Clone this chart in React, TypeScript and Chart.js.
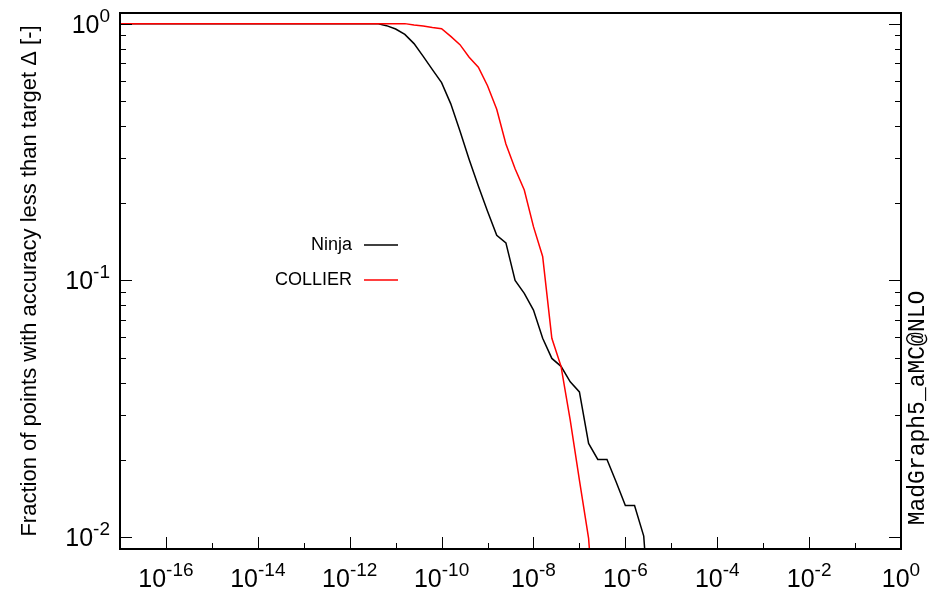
import React, { useEffect, useRef } from 'react';
import { Chart, registerables } from 'chart.js';

Chart.register(...registerables);

// ---- data (x given as log10 of target accuracy) ----
const ninjaLog10Delta = [-17, -11.4, -11.2, -11.0, -10.8, -10.6, -10.4, -10.2, -10.0, -9.8, -9.6, -9.4, -9.2, -9.0, -8.8, -8.6, -8.4, -8.2, -8.0, -7.8, -7.6, -7.4, -7.2, -7.0, -6.8, -6.6, -6.4, -6.2, -6.0, -5.8, -5.6, -5.4];
const ninjaFraction = [1.0, 1.0, 0.982, 0.953, 0.908, 0.836, 0.746, 0.662, 0.589, 0.487, 0.382, 0.296, 0.233, 0.186, 0.150, 0.140, 0.100, 0.089, 0.0767, 0.0595, 0.0497, 0.0463, 0.0403, 0.0368, 0.0232, 0.0201, 0.0201, 0.0164, 0.0133, 0.0133, 0.0101, 0.0033];

const collierLog10Delta = [-17, -10.8, -10.6, -10.4, -10.2, -10.0, -9.8, -9.6, -9.4, -9.2, -9.0, -8.8, -8.6, -8.4, -8.2, -8.0, -7.8, -7.6, -7.4, -7.2, -7.0, -6.8, -6.6];
const collierFraction = [1.0, 1.0, 0.988, 0.978, 0.966, 0.956, 0.892, 0.828, 0.740, 0.677, 0.573, 0.464, 0.340, 0.272, 0.225, 0.162, 0.124, 0.0595, 0.0463, 0.0286, 0.0167, 0.0099, 0.0033];

const seriesNames = ['Ninja', 'COLLIER'];
const seriesColors = ['#000000', '#ff0000'];

const xLabelExponents = [-16, -14, -12, -10, -8, -6, -4, -2, 0];
const xMinorExponents = [-15, -13, -11, -9, -7, -5, -3, -1];
const yLabelExponents = [-2, -1, 0];
const yMinorDecades = [-3, -2, -1];
const yMinorMultipliers = [2, 3, 4, 5, 6, 7, 8, 9];

const yTitle = 'Fraction of points with accuracy less than target Δ [-]';
const watermark = 'MadGraph5_aMC@NLO';

const SANS = '"Liberation Sans", Arial, Helvetica, sans-serif';
const MONO = '"Liberation Mono", "DejaVu Sans Mono", monospace';
const BASE_PX = 25;
const SUP_PX = 19;
const SUP_RISE = 11;

function drawPower(ctx: CanvasRenderingContext2D, exp: number, x: number, baseY: number, align: 'center' | 'right') {
  const base = '10';
  const sup = String(exp);
  ctx.font = `${BASE_PX}px ${SANS}`;
  const wb = ctx.measureText(base).width;
  ctx.font = `${SUP_PX}px ${SANS}`;
  const ws = ctx.measureText(sup).width;
  const total = wb + ws;
  const start = align === 'center' ? x - total / 2 : x - total;
  ctx.textAlign = 'left';
  ctx.textBaseline = 'alphabetic';
  ctx.font = `${BASE_PX}px ${SANS}`;
  ctx.fillText(base, start, baseY);
  ctx.font = `${SUP_PX}px ${SANS}`;
  ctx.fillText(sup, start + wb, baseY - SUP_RISE);
}

const gnuplotFrame = {
  id: 'gnuplotFrame',
  afterDatasetsDraw(chart: any) {
    const { ctx, chartArea: a, scales } = chart;
    const xs = scales.x;
    const ys = scales.y;
    ctx.save();
    ctx.fillStyle = '#000';
    ctx.strokeStyle = '#000';
    ctx.lineWidth = 1;

    const vTick = (px: number, len: number) => {
      const x = Math.round(px) + 0.5;
      ctx.beginPath();
      ctx.moveTo(x, a.bottom);
      ctx.lineTo(x, a.bottom - len);
      ctx.stroke();
    };
    const hTicks = (py: number, len: number) => {
      const y = Math.round(py) + 0.5;
      ctx.beginPath();
      ctx.moveTo(a.left, y);
      ctx.lineTo(a.left + len, y);
      ctx.moveTo(a.right, y);
      ctx.lineTo(a.right - len, y);
      ctx.stroke();
    };

    // x ticks (bottom only)
    for (const e of xLabelExponents) vTick(xs.getPixelForValue(Math.pow(10, e)), 12);
    for (const e of xMinorExponents) vTick(xs.getPixelForValue(Math.pow(10, e)), 6);
    // y ticks (left + mirrored right)
    for (const e of yLabelExponents) hTicks(ys.getPixelForValue(Math.pow(10, e)), 12);
    for (const d of yMinorDecades) {
      for (const m of yMinorMultipliers) {
        const v = m * Math.pow(10, d);
        if (v > ys.min * 1.001 && v < ys.max) hTicks(ys.getPixelForValue(v), 6);
      }
    }

    // frame
    ctx.lineWidth = 2;
    ctx.strokeRect(a.left, a.top, a.right - a.left, a.bottom - a.top);

    // tick labels
    for (const e of xLabelExponents) {
      drawPower(ctx, e, xs.getPixelForValue(Math.pow(10, e)), a.bottom + 38, 'center');
    }
    for (const e of yLabelExponents) {
      drawPower(ctx, e, a.left - 10, ys.getPixelForValue(Math.pow(10, e)) + 9, 'right');
    }

    // y title
    ctx.save();
    ctx.translate(30, (a.top + a.bottom) / 2);
    ctx.rotate(-Math.PI / 2);
    ctx.font = `22px ${SANS}`;
    ctx.textAlign = 'center';
    ctx.textBaseline = 'middle';
    ctx.fillText(yTitle, 0, 0);
    ctx.restore();

    // watermark on the right
    ctx.save();
    ctx.translate(a.right + 17, a.bottom - 141);
    ctx.rotate(-Math.PI / 2);
    ctx.font = `23px ${MONO}`;
    ctx.textAlign = 'center';
    ctx.textBaseline = 'middle';
    ctx.fillText(watermark, 0, 0);
    ctx.restore();

    // key
    const keyTextRight = a.left + 232;
    const rows = [a.top + 232, a.top + 267];
    chart.data.datasets.forEach((ds: any, i: number) => {
      const y = rows[i];
      ctx.font = `18px ${SANS}`;
      ctx.textAlign = 'right';
      ctx.textBaseline = 'middle';
      ctx.fillStyle = '#000';
      ctx.fillText(ds.label, keyTextRight, y);
      ctx.strokeStyle = ds.borderColor;
      ctx.lineWidth = 1.5;
      ctx.beginPath();
      ctx.moveTo(keyTextRight + 12, y);
      ctx.lineTo(keyTextRight + 46, y);
      ctx.stroke();
    });

    ctx.restore();
  },
};

export default function App() {
  const canvasRef = useRef<HTMLCanvasElement | null>(null);

  useEffect(() => {
    const canvas = canvasRef.current;
    if (!canvas) return;
    const chart = new Chart(canvas, {
      type: 'line',
      data: {
        datasets: [
          {
            label: seriesNames[0],
            data: ninjaLog10Delta.map((e, i) => ({ x: Math.pow(10, e), y: ninjaFraction[i] })),
            borderColor: seriesColors[0],
            borderWidth: 1.5,
            pointRadius: 0,
            tension: 0,
            fill: false,
            order: 2,
          },
          {
            label: seriesNames[1],
            data: collierLog10Delta.map((e, i) => ({ x: Math.pow(10, e), y: collierFraction[i] })),
            borderColor: seriesColors[1],
            borderWidth: 1.5,
            pointRadius: 0,
            tension: 0,
            fill: false,
            order: 1,
          },
        ],
      },
      options: {
        animation: false,
        responsive: false,
        events: [],
        layout: { padding: { left: 120, right: 30, top: 13, bottom: 43 } },
        scales: {
          x: { type: 'logarithmic', min: 1e-17, max: 1, display: false },
          y: { type: 'logarithmic', min: 0.009, max: 1.1, display: false },
        },
        plugins: {
          legend: { display: false },
          tooltip: { enabled: false },
        },
      },
      plugins: [gnuplotFrame],
    });
    return () => chart.destroy();
  }, []);

  return (
    <div style={{ position: 'fixed', left: 0, top: 0, width: 931, height: 592, background: '#fff' }}>
      <canvas ref={canvasRef} width={931} height={592} style={{ display: 'block' }} />
    </div>
  );
}
